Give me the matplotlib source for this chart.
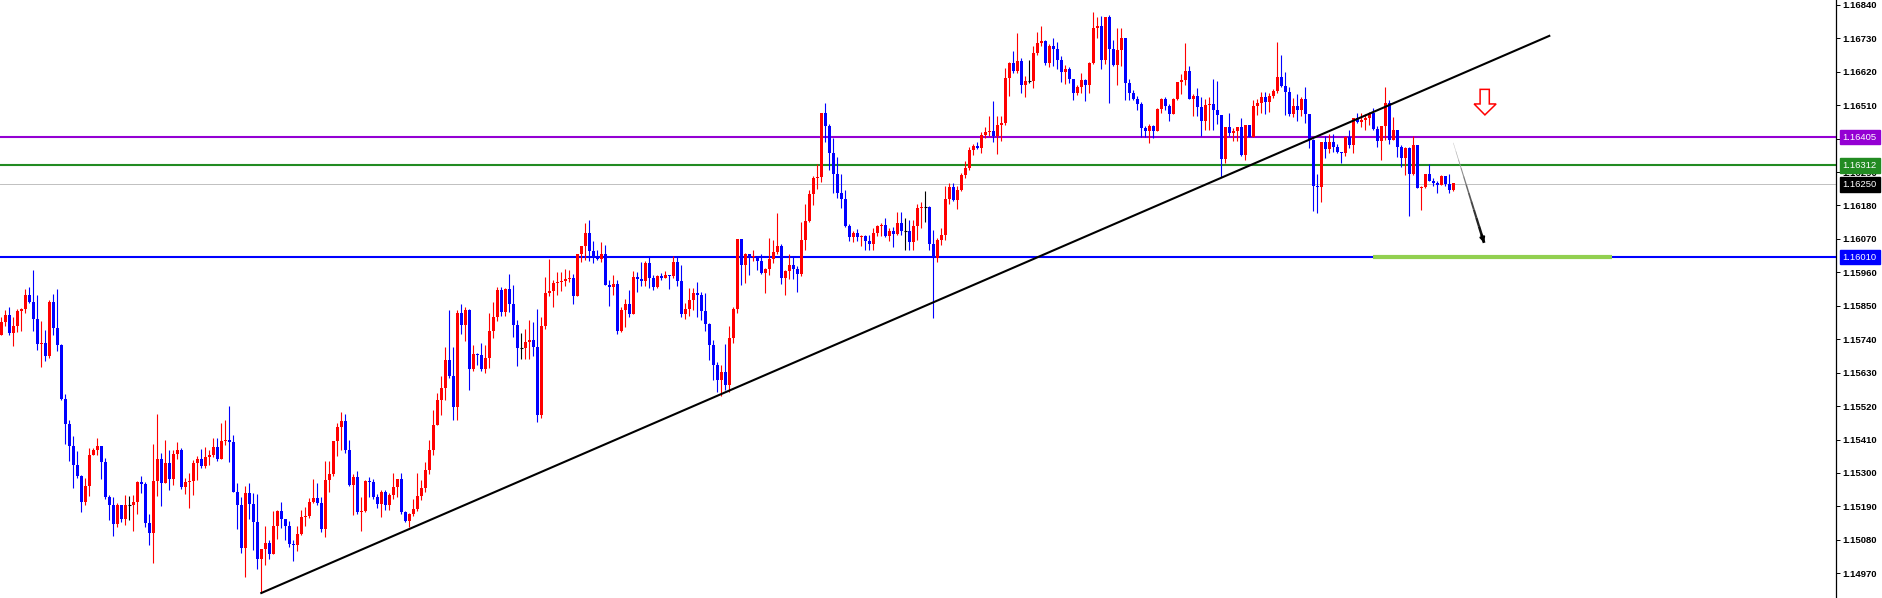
import matplotlib
matplotlib.use("Agg")
import matplotlib.pyplot as plt
import matplotlib.transforms as mtransforms
from matplotlib.patches import Polygon
from matplotlib.collections import LineCollection
import numpy as np

# EURUSD-style candles (open = previous close)
first_open = 1.15754
closes = [
    1.15797, 1.15820, 1.15760, 1.15784, 1.15833, 1.15839, 1.15885, 1.15862, 1.15806, 1.15724,
    1.15727, 1.15685, 1.15862, 1.15777, 1.15721, 1.15543, 1.15461, 1.15389, 1.15326, 1.15290,
    1.15204, 1.15257, 1.15359, 1.15376, 1.15389, 1.15336, 1.15221, 1.15195, 1.15132, 1.15195,
    1.15149, 1.15195, 1.15195, 1.15204, 1.15270, 1.15264, 1.15135, 1.15102, 1.15273, 1.15346,
    1.15267, 1.15333, 1.15280, 1.15362, 1.15376, 1.15254, 1.15270, 1.15273, 1.15333, 1.15346,
    1.15323, 1.15353, 1.15359, 1.15385, 1.15346, 1.15405, 1.15408, 1.15402, 1.15237, 1.15195,
    1.15053, 1.15234, 1.15198, 1.15139, 1.15017, 1.15050, 1.15070, 1.15033, 1.15126, 1.15175,
    1.15149, 1.15126, 1.15066, 1.15063, 1.15099, 1.15155, 1.15158, 1.15204, 1.15218, 1.15201,
    1.15116, 1.15277, 1.15297, 1.15405, 1.15451, 1.15471, 1.15376, 1.15260, 1.15287, 1.15172,
    1.15175, 1.15273, 1.15270, 1.15221, 1.15198, 1.15237, 1.15195, 1.15227, 1.15254, 1.15280,
    1.15172, 1.15142, 1.15165, 1.15181, 1.15224, 1.15251, 1.15310, 1.15376, 1.15458, 1.15540,
    1.15580, 1.15672, 1.15619, 1.15517, 1.15826, 1.15787, 1.15836, 1.15642, 1.15691, 1.15688,
    1.15642, 1.15678, 1.15767, 1.15813, 1.15902, 1.15830, 1.15905, 1.15856, 1.15787, 1.15711,
    1.15711, 1.15731, 1.15737, 1.15714, 1.15491, 1.15784, 1.15892, 1.15899, 1.15925, 1.15928,
    1.15932, 1.15938, 1.15941, 1.15882, 1.16020, 1.16047, 1.16089, 1.16030, 1.16007, 1.16004,
    1.16020, 1.15918, 1.15912, 1.15922, 1.15767, 1.15836, 1.15856, 1.15823, 1.15945, 1.15938,
    1.15932, 1.15991, 1.15941, 1.15912, 1.15948, 1.15941, 1.15951, 1.15948, 1.15994, 1.15932,
    1.15823, 1.15839, 1.15869, 1.15892, 1.15885, 1.15833, 1.15790, 1.15721, 1.15655, 1.15606,
    1.15632, 1.15589, 1.15744, 1.15839, 1.16070, 1.15984, 1.16020, 1.16011, 1.16014, 1.15997,
    1.15958, 1.15971, 1.16004, 1.16027, 1.16047, 1.15941, 1.15964, 1.15984, 1.15971, 1.15955,
    1.16066, 1.16129, 1.16218, 1.16270, 1.16274, 1.16484, 1.16442, 1.16353, 1.16284, 1.16221,
    1.16201, 1.16113, 1.16076, 1.16089, 1.16076, 1.16080, 1.16063, 1.16053, 1.16089, 1.16113,
    1.16116, 1.16080, 1.16096, 1.16086, 1.16122, 1.16096, 1.16096, 1.16060, 1.16113, 1.16172,
    1.16175, 1.16175, 1.16053, 1.16007, 1.16066, 1.16083, 1.16201, 1.16241, 1.16198, 1.16231,
    1.16280, 1.16303, 1.16363, 1.16376, 1.16369, 1.16412, 1.16422, 1.16425, 1.16409, 1.16445,
    1.16451, 1.16599, 1.16649, 1.16622, 1.16655, 1.16576, 1.16590, 1.16590, 1.16682, 1.16715,
    1.16721, 1.16649, 1.16705, 1.16695, 1.16659, 1.16619, 1.16629, 1.16596, 1.16550, 1.16570,
    1.16593, 1.16576, 1.16649, 1.16764, 1.16771, 1.16659, 1.16800, 1.16695, 1.16642, 1.16692,
    1.16731, 1.16583, 1.16550, 1.16530, 1.16514, 1.16435, 1.16425, 1.16442, 1.16425, 1.16497,
    1.16530, 1.16507, 1.16481, 1.16530, 1.16586, 1.16593, 1.16622, 1.16530, 1.16540, 1.16504,
    1.16458, 1.16511, 1.16514, 1.16494, 1.16478, 1.16333, 1.16438, 1.16418, 1.16425, 1.16438,
    1.16346, 1.16445, 1.16405, 1.16507, 1.16517, 1.16537, 1.16520, 1.16540, 1.16557, 1.16603,
    1.16573, 1.16553, 1.16481, 1.16507, 1.16494, 1.16530, 1.16481, 1.16395, 1.16244, 1.16241,
    1.16389, 1.16366, 1.16389, 1.16372, 1.16356, 1.16353, 1.16405, 1.16379, 1.16468, 1.16455,
    1.16461, 1.16468, 1.16484, 1.16432, 1.16392, 1.16442, 1.16517, 1.16395, 1.16428, 1.16372,
    1.16336, 1.16369, 1.16284, 1.16379, 1.16238, 1.16241, 1.16284, 1.16261, 1.16254, 1.16247,
    1.16277, 1.16251, 1.16231, 1.16254,
]
highs = [
    1.15813, 1.15836, 1.15846, 1.15813, 1.15839, 1.15843, 1.15905, 1.15912, 1.15968, 1.15885,
    1.15800, 1.15770, 1.15869, 1.15889, 1.15905, 1.15724, 1.15560, 1.15474, 1.15422, 1.15372,
    1.15293, 1.15283, 1.15382, 1.15382, 1.15415, 1.15389, 1.15349, 1.15227, 1.15221, 1.15201,
    1.15195, 1.15227, 1.15224, 1.15227, 1.15273, 1.15290, 1.15270, 1.15165, 1.15395, 1.15494,
    1.15366, 1.15408, 1.15376, 1.15376, 1.15402, 1.15382, 1.15283, 1.15300, 1.15343, 1.15356,
    1.15379, 1.15385, 1.15376, 1.15415, 1.15415, 1.15464, 1.15474, 1.15520, 1.15425, 1.15267,
    1.15221, 1.15257, 1.15267, 1.15234, 1.15231, 1.15050, 1.15126, 1.15079, 1.15175, 1.15178,
    1.15204, 1.15132, 1.15142, 1.15079, 1.15126, 1.15178, 1.15188, 1.15218, 1.15280, 1.15267,
    1.15221, 1.15339, 1.15339, 1.15405, 1.15464, 1.15500, 1.15494, 1.15408, 1.15297, 1.15306,
    1.15221, 1.15277, 1.15287, 1.15280, 1.15231, 1.15244, 1.15244, 1.15234, 1.15300, 1.15280,
    1.15300, 1.15175, 1.15168, 1.15214, 1.15300, 1.15277, 1.15336, 1.15408, 1.15507, 1.15563,
    1.15619, 1.15714, 1.15836, 1.15714, 1.15836, 1.15856, 1.15846, 1.15839, 1.15721, 1.15695,
    1.15727, 1.15721, 1.15826, 1.15862, 1.15912, 1.15912, 1.15909, 1.15955, 1.15918, 1.15803,
    1.15760, 1.15774, 1.15803, 1.15797, 1.15839, 1.15813, 1.15945, 1.16004, 1.15935, 1.15961,
    1.15961, 1.15971, 1.15968, 1.15955, 1.16020, 1.16047, 1.16122, 1.16132, 1.16063, 1.16034,
    1.16060, 1.16050, 1.15935, 1.15951, 1.15935, 1.15846, 1.15872, 1.15902, 1.15964, 1.15961,
    1.15994, 1.15997, 1.16014, 1.15951, 1.15951, 1.15958, 1.15964, 1.15951, 1.16014, 1.16014,
    1.15984, 1.15859, 1.15909, 1.15909, 1.15928, 1.15895, 1.15892, 1.15793, 1.15737, 1.15665,
    1.15655, 1.15724, 1.15784, 1.15846, 1.16070, 1.16070, 1.16024, 1.16014, 1.16034, 1.16011,
    1.16020, 1.15974, 1.16073, 1.16066, 1.16155, 1.16053, 1.15968, 1.16020, 1.16014, 1.15981,
    1.16126, 1.16185, 1.16231, 1.16277, 1.16316, 1.16484, 1.16517, 1.16448, 1.16402, 1.16340,
    1.16284, 1.16231, 1.16119, 1.16096, 1.16103, 1.16083, 1.16083, 1.16083, 1.16106, 1.16116,
    1.16122, 1.16139, 1.16106, 1.16109, 1.16159, 1.16159, 1.16139, 1.16132, 1.16132, 1.16185,
    1.16191, 1.16228, 1.16178, 1.16099, 1.16073, 1.16106, 1.16244, 1.16254, 1.16254, 1.16244,
    1.16287, 1.16326, 1.16372, 1.16382, 1.16389, 1.16422, 1.16438, 1.16474, 1.16524, 1.16474,
    1.16474, 1.16632, 1.16652, 1.16688, 1.16747, 1.16665, 1.16606, 1.16659, 1.16705, 1.16751,
    1.16771, 1.16724, 1.16711, 1.16731, 1.16718, 1.16672, 1.16642, 1.16636, 1.16596, 1.16576,
    1.16616, 1.16596, 1.16652, 1.16817, 1.16800, 1.16803, 1.16800, 1.16807, 1.16724, 1.16764,
    1.16764, 1.16731, 1.16596, 1.16560, 1.16540, 1.16520, 1.16442, 1.16448, 1.16445, 1.16501,
    1.16534, 1.16537, 1.16514, 1.16534, 1.16586, 1.16613, 1.16715, 1.16639, 1.16547, 1.16567,
    1.16537, 1.16530, 1.16537, 1.16596, 1.16590, 1.16478, 1.16438, 1.16484, 1.16435, 1.16438,
    1.16468, 1.16445, 1.16445, 1.16527, 1.16530, 1.16553, 1.16553, 1.16550, 1.16563, 1.16718,
    1.16675, 1.16619, 1.16570, 1.16534, 1.16547, 1.16537, 1.16570, 1.16481, 1.16399, 1.16284,
    1.16389, 1.16409, 1.16415, 1.16415, 1.16382, 1.16353, 1.16409, 1.16428, 1.16468, 1.16484,
    1.16484, 1.16481, 1.16488, 1.16501, 1.16442, 1.16442, 1.16570, 1.16527, 1.16471, 1.16428,
    1.16379, 1.16372, 1.16372, 1.16409, 1.16379, 1.16244, 1.16284, 1.16316, 1.16270, 1.16261,
    1.16280, 1.16277, 1.16284, 1.16254,
]
lows = [
    1.15754, 1.15784, 1.15754, 1.15718, 1.15764, 1.15767, 1.15826, 1.15859, 1.15767, 1.15704,
    1.15649, 1.15668, 1.15678, 1.15754, 1.15701, 1.15540, 1.15395, 1.15339, 1.15251, 1.15283,
    1.15172, 1.15195, 1.15224, 1.15359, 1.15359, 1.15280, 1.15214, 1.15145, 1.15093, 1.15122,
    1.15139, 1.15129, 1.15145, 1.15109, 1.15165, 1.15234, 1.15122, 1.15063, 1.15004, 1.15224,
    1.15191, 1.15267, 1.15244, 1.15260, 1.15346, 1.15247, 1.15231, 1.15185, 1.15227, 1.15277,
    1.15316, 1.15316, 1.15326, 1.15353, 1.15339, 1.15346, 1.15392, 1.15336, 1.15237, 1.15116,
    1.15037, 1.14958, 1.15149, 1.15047, 1.14984, 1.14905, 1.14997, 1.15017, 1.15033, 1.15083,
    1.15119, 1.15079, 1.15056, 1.15010, 1.15043, 1.15096, 1.15126, 1.15152, 1.15201, 1.15195,
    1.15106, 1.15089, 1.15237, 1.15290, 1.15356, 1.15376, 1.15366, 1.15257, 1.15162, 1.15165,
    1.15109, 1.15172, 1.15221, 1.15214, 1.15185, 1.15155, 1.15178, 1.15178, 1.15214, 1.15221,
    1.15165, 1.15139, 1.15122, 1.15158, 1.15175, 1.15211, 1.15237, 1.15297, 1.15359, 1.15458,
    1.15491, 1.15540, 1.15612, 1.15474, 1.15474, 1.15757, 1.15734, 1.15573, 1.15635, 1.15655,
    1.15635, 1.15629, 1.15645, 1.15744, 1.15800, 1.15816, 1.15816, 1.15830, 1.15747, 1.15652,
    1.15675, 1.15675, 1.15675, 1.15685, 1.15468, 1.15481, 1.15774, 1.15882, 1.15846, 1.15885,
    1.15899, 1.15915, 1.15928, 1.15856, 1.15925, 1.15994, 1.16001, 1.15997, 1.15991, 1.16001,
    1.15994, 1.15918, 1.15849, 1.15885, 1.15757, 1.15764, 1.15780, 1.15813, 1.15823, 1.15895,
    1.15915, 1.15915, 1.15909, 1.15902, 1.15909, 1.15935, 1.15941, 1.15905, 1.15941, 1.15915,
    1.15813, 1.15806, 1.15816, 1.15836, 1.15813, 1.15803, 1.15767, 1.15672, 1.15606, 1.15566,
    1.15553, 1.15573, 1.15566, 1.15727, 1.15826, 1.15918, 1.15925, 1.15951, 1.15997, 1.15968,
    1.15955, 1.15892, 1.15951, 1.15991, 1.16020, 1.15922, 1.15885, 1.15938, 1.15938, 1.15895,
    1.15948, 1.16034, 1.16126, 1.16182, 1.16234, 1.16257, 1.16389, 1.16297, 1.16221, 1.16205,
    1.16172, 1.16109, 1.16063, 1.16060, 1.16063, 1.16047, 1.16034, 1.16034, 1.16034, 1.16080,
    1.16080, 1.16076, 1.16063, 1.16043, 1.16083, 1.16083, 1.16034, 1.16034, 1.16034, 1.16066,
    1.16106, 1.16126, 1.16034, 1.15810, 1.15994, 1.16050, 1.16066, 1.16185, 1.16195, 1.16168,
    1.16228, 1.16270, 1.16297, 1.16346, 1.16366, 1.16353, 1.16402, 1.16409, 1.16389, 1.16349,
    1.16392, 1.16445, 1.16540, 1.16616, 1.16616, 1.16550, 1.16537, 1.16583, 1.16567, 1.16675,
    1.16705, 1.16642, 1.16636, 1.16639, 1.16629, 1.16586, 1.16580, 1.16583, 1.16527, 1.16543,
    1.16550, 1.16524, 1.16550, 1.16645, 1.16731, 1.16629, 1.16645, 1.16517, 1.16639, 1.16576,
    1.16639, 1.16527, 1.16527, 1.16527, 1.16494, 1.16405, 1.16405, 1.16386, 1.16402, 1.16425,
    1.16484, 1.16494, 1.16458, 1.16481, 1.16527, 1.16547, 1.16576, 1.16530, 1.16474, 1.16474,
    1.16409, 1.16428, 1.16428, 1.16428, 1.16448, 1.16274, 1.16320, 1.16409, 1.16392, 1.16392,
    1.16343, 1.16330, 1.16405, 1.16405, 1.16478, 1.16484, 1.16481, 1.16488, 1.16534, 1.16550,
    1.16570, 1.16478, 1.16474, 1.16471, 1.16458, 1.16474, 1.16451, 1.16369, 1.16162, 1.16155,
    1.16191, 1.16336, 1.16353, 1.16356, 1.16353, 1.16320, 1.16343, 1.16369, 1.16353, 1.16451,
    1.16438, 1.16428, 1.16445, 1.16428, 1.16372, 1.16330, 1.16395, 1.16382, 1.16412, 1.16340,
    1.16307, 1.16280, 1.16145, 1.16280, 1.16238, 1.16165, 1.16238, 1.16261, 1.16244, 1.16221,
    1.16247, 1.16244, 1.16221, 1.16228,
]

# horizontal levels and their price-scale tags
level_prices = [1.16405, 1.16312, 1.16250, 1.16010]
level_colors = ["#9400D3", "#228B22", "#000000", "#0000FF"]
level_labels = ["1.16405", "1.16312", "1.16250", "1.16010"]

# price scale
y_ticks = [1.16840, 1.16730, 1.16620, 1.16510, 1.16400, 1.16290, 1.16180, 1.16070, 1.15960,
           1.15850, 1.15740, 1.15630, 1.15520, 1.15410, 1.15300, 1.15190, 1.15080, 1.14970]

# drawings on the chart (bar index, price)
trend_x = [65, 387]
trend_y = [1.14905, 1.16738]
target_x = [343, 402.7]
target_y = 1.16010
arrow_from = (363.0, 1.16386)
arrow_to = (370.7, 1.16057)
down_arrow_x = [369.7, 372.0, 372.0, 373.7, 370.9, 368.2, 369.7, 369.7]
down_arrow_y = [1.16562, 1.16562, 1.16514, 1.16514, 1.16478, 1.16514, 1.16514, 1.16562]

################################################################################
W, H = 1883, 598
fig = plt.figure(figsize=(W / 100, H / 100), dpi=100, facecolor="white")
ax = fig.add_axes([0, 0, 1836 / W, 1])

o = np.r_[first_open, closes[:-1]]
c = np.array(closes)
hi = np.maximum(np.array(highs), np.maximum(o, c))
lo = np.minimum(np.array(lows), np.minimum(o, c))
x = np.arange(len(c))

col = np.where(c > o, "#FF0000", np.where(c < o, "#0000FF", "#000000"))
flat = c == o

ax.vlines(x, lo, hi, colors=col, lw=0.8, zorder=3)
ax.bar(x[~flat], (c - o)[~flat], bottom=o[~flat], width=0.82,
       color=col[~flat], lw=0, zorder=4)
ax.hlines(c[flat], x[flat] - 0.45, x[flat] + 0.45, colors="black", lw=0.8, zorder=4)

# levels
lw_map = [1.5, 1.5, 0.7, 1.5]
for p, cc, lw in zip(level_prices, level_colors, lw_map):
    ax.axhline(p, color="#C0C0C0" if cc == "#000000" else cc, lw=lw, zorder=2)

ax.plot(target_x, [target_y, target_y], color="#92D050", lw=3, solid_capstyle="butt", zorder=5)
ax.plot(trend_x, trend_y, color="black", lw=1.5, zorder=5)

# tapered black arrow
n = 12
ts = np.linspace(0, 1, n + 1)
px = arrow_from[0] + (arrow_to[0] - arrow_from[0]) * ts
py = arrow_from[1] + (arrow_to[1] - arrow_from[1]) * ts
segs = [[(px[k], py[k]), (px[k + 1], py[k + 1])] for k in range(n)]
grays = [str(0.75 * (1 - k / (n - 1))) for k in range(n)]
ax.add_collection(LineCollection(segs, linewidths=np.linspace(0.3, 2.0, n),
                                 colors=grays, zorder=5))
ax.annotate("", xy=arrow_to, xytext=(px[-2], py[-2]),
            arrowprops=dict(arrowstyle="-|>", color="black", lw=1.5,
                            mutation_scale=7, shrinkA=0, shrinkB=0), zorder=6)

ax.add_patch(Polygon(list(zip(down_arrow_x, down_arrow_y)), closed=True,
                     facecolor="white", edgecolor="#FF0000", lw=1.1, zorder=6))

ax.set_xlim(-0.325, 458.675)
ax.set_ylim(1.148886, 1.16856)
ax.set_xticks([])
ax.yaxis.tick_right()
ax.set_yticks(y_ticks)
ax.set_yticklabels([f"{t:.5f}" for t in y_ticks])
ax.tick_params(axis="y", direction="out", length=3, width=0.7, pad=1.8,
               labelsize=6.8, colors="black")
for lab in ax.get_yticklabels():
    lab.set_fontfamily("Liberation Sans")
    lab.set_fontweight("bold")
for s in ["top", "left", "bottom"]:
    ax.spines[s].set_visible(False)
ax.spines["right"].set_linewidth(0.9)
ax.spines["right"].set_color("black")

tr = mtransforms.blended_transform_factory(ax.transAxes, ax.transData) + \
    mtransforms.ScaledTranslation(6.7 / 100, 0, fig.dpi_scale_trans)
for p, cc, lab in zip(level_prices, level_colors, level_labels):
    ax.text(1.0, p, lab, transform=tr, ha="left", va="center", fontsize=6.8,
            family="Liberation Sans", color="white", clip_on=False, zorder=10,
            bbox=dict(boxstyle="square,pad=0.3", fc=cc, ec=cc))

fig.savefig("out.png", dpi=100, facecolor="white")
